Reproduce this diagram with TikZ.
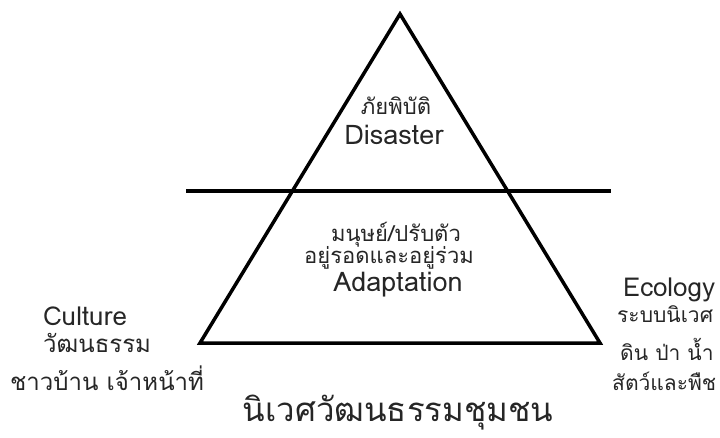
\documentclass[tikz,border=0pt]{standalone}
\usepackage{fontspec}
\setmainfont[Script=Thai]{Loma}
\newfontfamily\thaifont[Script=Thai]{Loma}
\definecolor{txt}{HTML}{262626}
\begin{document}
\begin{tikzpicture}[x=1pt,y=-1pt,
  tri/.style={draw=black,line width=3.5pt,line join=miter},
  sep/.style={draw=black,line width=4.5pt},
  lbl/.style={text=txt,inner sep=0pt,font=\thaifont\fontsize{22}{26}\selectfont,anchor=base},
  lat/.style={text=txt,inner sep=0pt,font=\thaifont\fontsize{27}{30}\selectfont,anchor=base},
  side/.style={text=txt,inner sep=0pt,font=\thaifont\fontsize{21}{25}\selectfont,anchor=base west},
  sidel/.style={side,font=\thaifont\fontsize{24}{28}\selectfont},
  slat/.style={text=txt,inner sep=0pt,font=\thaifont\fontsize{26}{30}\selectfont,anchor=base west},
  ttl/.style={text=txt,inner sep=0pt,font=\thaifont\fontsize{33}{40}\selectfont,anchor=base}]
\useasboundingbox (0,0) rectangle (720,438);
\coordinate (A) at (400,14);
\coordinate (B) at (200,343);
\coordinate (C) at (600,343);
\coordinate (L) at (186,191);
\coordinate (R) at (611,191);
\draw[tri] (A) -- (B) -- (C) -- cycle;
\draw[sep] (L) -- (R);
\node[lbl] (t1) at (396,115) {ภัยพิบัติ};
\node[lat] (t2) at (394,145) {Disaster};
\node[lbl] (t3) at (396,242) {มนุษย์/ปรับตัว};
\node[lbl] (t4) at (389,264) {อยู่รอดและอยู่ร่วม};
\node[lat] (t5) at (398,292) {Adaptation};
\node[slat] (c1) at (43,326) {Culture};
\node[sidel] (c2) at (43,352) {วัฒนธรรม};
\node[sidel] (c3) at (10,390) {ชาวบ้าน เจ้าหน้าที่};
\node[slat] (e1) at (623,297) {Ecology};
\node[side] (e2) at (617,322) {ระบบนิเวศ};
\node[side] (e3) at (620,360) {ดิน ป่า น้ำ};
\node[side] (e4) at (612,390) {สัตว์และพืช};
\node[ttl] (ti) at (398,421) {นิเวศวัฒนธรรมชุมชน};
\end{tikzpicture}
\end{document}
